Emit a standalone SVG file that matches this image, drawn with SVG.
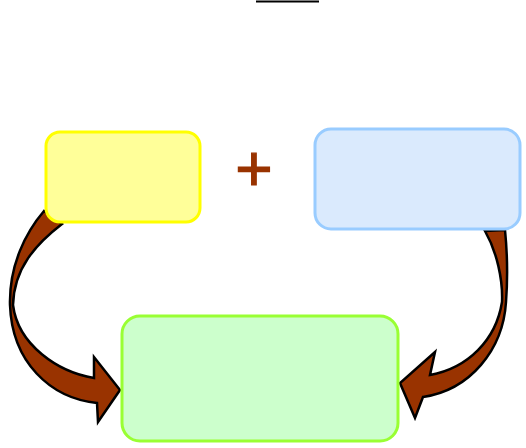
<svg xmlns="http://www.w3.org/2000/svg" width="526" height="448" viewBox="0 0 526 448">
<style>
.arrow{fill:#993300;stroke:#000;stroke-width:2.5;stroke-linejoin:miter}
.box{stroke-width:3}
</style>
<rect width="526" height="448" fill="#fff"/>
<line x1="256" y1="1.5" x2="319" y2="1.5" stroke="#000" stroke-width="1.8"/>
<g id="connectors">
<path class="arrow" d="M 62,224 C 36,244 14,268 13,305 C 18,345 58,372 94,378 L 94,357 L 120,390 L 98,422 L 97,403 C 50,398 12,362 10,305 C 9,265 26,232 44,211 Z"/>
<path class="arrow" d="M 485,231 C 497,252 503,280 502,302 C 496,340 468,368 430,375 L 435,352 L 400,383 L 415,418 L 423,397 C 470,390 503,350 506,302 C 508,275 507,250 505,230 Z"/>
</g>
<g id="node-yellow"><rect class="box" x="46" y="132" width="154" height="90" rx="14" fill="#FFFF99" stroke="#FFFF00"/></g>
<g id="node-blue"><rect class="box" x="315" y="129" width="205" height="100" rx="16" fill="#DAEAFD" stroke="#99CCFF"/></g>
<g id="node-green"><rect class="box" x="122" y="316" width="276" height="125" rx="18" fill="#CCFFCC" stroke="#99FF33"/></g>
<g id="plus"><text x="254" y="191" font-family="Liberation Sans, Arial, sans-serif" font-size="64" fill="#993300" stroke="#993300" stroke-width="1.2" text-anchor="middle">+</text></g>
</svg>
